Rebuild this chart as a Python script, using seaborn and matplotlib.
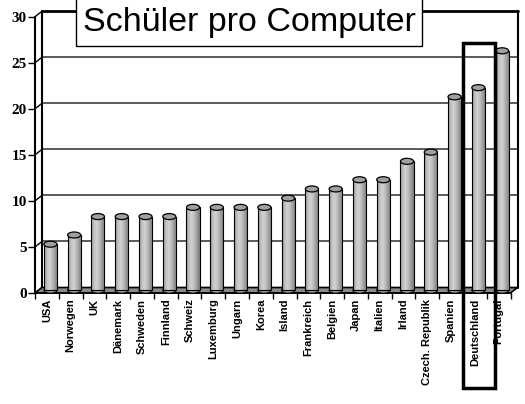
import numpy as np
import matplotlib.pyplot as plt
import seaborn as sns
from matplotlib.patches import Rectangle, Ellipse, Polygon
from matplotlib.colors import LinearSegmentedColormap

plt.switch_backend("Agg")

# --- data ---
countries = ["USA", "Norwegen", "UK", "Dänemark", "Schweden", "Finnland",
             "Schweiz", "Luxemburg", "Ungarn", "Korea", "Island", "Frankreich",
             "Belgien", "Japan", "Italien", "Irland", "Czech. Republik",
             "Spanien", "Deutschland", "Portugal"]
values = [5, 6, 8, 8, 8, 8, 9, 9, 9, 9, 10, 11, 11, 12, 12, 14, 15, 21, 22, 26]
y_ticks = [0, 5, 10, 15, 20, 25, 30]
title = "Schüler pro Computer"
highlight = "Deutschland"

W, H, DPI = 525, 404, 100
sns.set_style("white")
fig = plt.figure(figsize=(W / DPI, H / DPI), dpi=DPI)

# front plane of the "3d" box, in pixels
ax_l, ax_r, ax_top, ax_bot = 35, 510.5, 16.7, 293
ax = fig.add_axes([ax_l / W, (H - ax_bot) / H, (ax_r - ax_l) / W, (ax_bot - ax_top) / H])

n = len(countries)
ux = n / (ax_r - ax_l)           # data units per pixel
uy = 30 / (ax_bot - ax_top)
dx, dy = 7 * ux, 5.5 * uy        # depth offset of the back wall

sns.barplot(x=countries, y=values, ax=ax, color="#b0b0b0", width=0.55,
            edgecolor="black", linewidth=0.8, zorder=5)

cmap = LinearSegmentedColormap.from_list(
    "cyl", ["#959595", "#c0c0c0", "#d2d2d2", "#bcbcbc", "#9a9a9a", "#7c7c7c"])
grad = np.linspace(0, 1, 64).reshape(1, -1)
cap_h = 6 * uy

for p in list(ax.patches):
    x0 = p.get_x() + dx / 2
    w = p.get_width()
    h = p.get_height()
    p.set_x(x0)
    p.set_y(dy / 2)
    p.set_facecolor("none")
    im = ax.imshow(grad, extent=[x0, x0 + w, dy / 2, dy / 2 + h], cmap=cmap,
                   aspect="auto", zorder=4, interpolation="bilinear")
    im.set_clip_path(p)
    ax.add_patch(Ellipse((x0 + w / 2, dy / 2), w, cap_h, facecolor="#9a9a9a",
                         edgecolor="black", lw=0.8, zorder=3))
    ax.add_patch(Ellipse((x0 + w / 2, dy / 2 + h), w, cap_h, facecolor="#a0a0a0",
                         edgecolor="black", lw=0.9, zorder=6))

ax.set_xlim(-0.5, n - 0.5)
ax.set_ylim(0, 30)
ax.set_aspect("auto")

# floor
ax.add_patch(Polygon([(-0.5, 0), (n - 0.5, 0), (n - 0.5 + dx, dy), (-0.5 + dx, dy)],
                     closed=True, facecolor="#8a8a8a", edgecolor="black", lw=1.2,
                     zorder=2, clip_on=False))

# back wall grid lines and connectors
for v in y_ticks[1:-1]:
    ax.plot([-0.5 + dx, n - 0.5 + dx], [v + dy, v + dy], color="#5a5a5a", lw=1.4,
            zorder=1, clip_on=False)
for v in y_ticks:
    ax.plot([-0.5, -0.5 + dx], [v, v + dy], color="black", lw=1, zorder=1, clip_on=False)
ax.plot([-0.5 + dx, n - 0.5 + dx], [30 + dy, 30 + dy], color="black", lw=2, zorder=1, clip_on=False)
ax.plot([-0.5 + dx, -0.5 + dx], [dy, 30 + dy], color="black", lw=1.5, zorder=1, clip_on=False)
ax.plot([n - 0.5 + dx, n - 0.5 + dx], [dy, 30 + dy], color="black", lw=1.5, zorder=1, clip_on=False)

for s in ["top", "right"]:
    ax.spines[s].set_visible(False)
ax.spines["left"].set_linewidth(1.5)
ax.spines["bottom"].set_linewidth(1.2)
ax.spines["left"].set_color("black")
ax.spines["bottom"].set_color("black")

ax.set_yticks(y_ticks)
ax.set_yticklabels([str(t) for t in y_ticks], fontfamily="Liberation Serif",
                   fontweight="bold", fontsize=11)
ax.tick_params(axis="y", direction="out", length=5, width=1, pad=1, left=True,
               color="black", labelcolor="black")
ax.set_xticks(range(n))
ax.set_xticklabels(countries, rotation=90, fontfamily="Liberation Sans",
                   fontweight="bold", fontsize=8)
ax.set_xticks(np.arange(-0.5, n), minor=True)
ax.tick_params(axis="x", which="major", length=0, pad=4, labelcolor="black")
ax.tick_params(axis="x", which="minor", direction="out", length=4, width=1, bottom=True,
               color="black")
ax.set_xlabel("")
ax.set_ylabel("")
ax.grid(False)

# highlight box around Deutschland
idx = countries.index(highlight)
ax.add_patch(Rectangle((idx - 0.51, -10.3), 1.37, 37.4, fill=False, edgecolor="black",
                       lw=2.5, clip_on=False, zorder=12))

# title box
fig.add_artist(Rectangle((76 / W, (H - 45.7) / H), (422 - 76) / W, 50 / H,
                         transform=fig.transFigure, facecolor="white",
                         edgecolor="black", lw=1, zorder=10))
fig.text((76 + 422) / 2 / W, (H - 23) / H, title, ha="center", va="center",
         fontsize=24.5, fontfamily="Liberation Sans", color="black", zorder=11)

fig.savefig("out.png", dpi=DPI)
